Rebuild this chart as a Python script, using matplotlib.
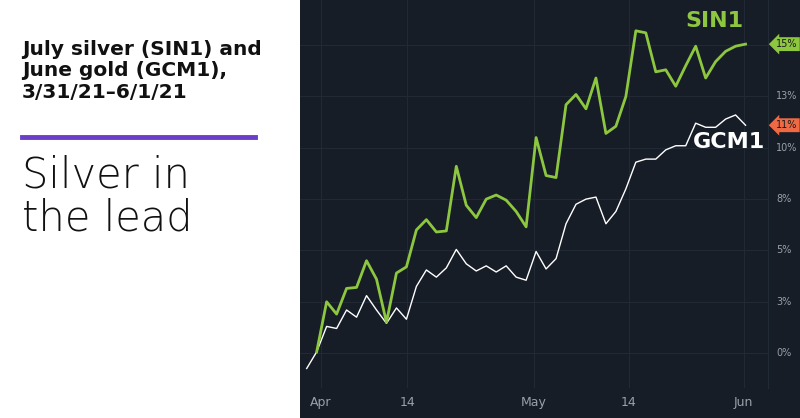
import matplotlib
matplotlib.use("Agg")
import matplotlib.pyplot as plt
import numpy as np

# percent change since 3/31/21
silver = [np.nan, 0.06, 2.5, 1.9, 3.15, 3.2, 4.5, 3.6, 1.5, 3.9, 4.2, 6.0, 6.5, 5.9, 5.95,
          9.1, 7.2, 6.6, 7.5, 7.7, 7.45, 6.9, 6.15, 10.5, 8.65, 8.55, 12.1, 12.6, 11.9,
          13.4, 10.7, 11.05, 12.5, 15.7, 15.6, 13.7, 13.8, 13.0, 14.0, 14.95, 13.4, 14.2,
          14.7, 14.95, 15.05]
gold = [-0.75, 0.06, 1.3, 1.2, 2.1, 1.75, 2.8, 2.1, 1.45, 2.2, 1.65, 3.25, 4.05, 3.7, 4.15,
        5.05, 4.35, 4.0, 4.25, 3.95, 4.25, 3.7, 3.55, 4.95, 4.1, 4.6, 6.3, 7.25, 7.5, 7.6,
        6.3, 6.9, 8.0, 9.3, 9.45, 9.45, 9.9, 10.1, 10.1, 11.2, 11.0, 11.0, 11.4, 11.6, 11.1]
x_tick_pos = [1.45, 10.1, 22.8, 32.3, 43.8]
x_tick_labels = ["Apr", "14", "May", "14", "Jun"]
y_ticks = [0, 2.5, 5, 7.5, 10, 12.5, 15]
y_tick_labels = ["0%", "3%", "5%", "8%", "10%", "13%", "15%"]

BG = "#161d27"
GREEN = "#8dc63f"
RED = "#ee6a45"

fig = plt.figure(figsize=(8, 4.18), dpi=100)
fig.patch.set_facecolor("white")

# dark panel
fig.add_artist(plt.Rectangle((300 / 800, 0), 500 / 800, 1, transform=fig.transFigure,
                             facecolor=BG, edgecolor="none", zorder=0))

ax = fig.add_axes([300 / 800, 30 / 418, 468 / 800, 388 / 418])
ax.set_facecolor(BG)
idx = np.arange(len(gold))
ax.plot(idx, gold, color="white", lw=1.0)
ax.plot(idx, silver, color=GREEN, lw=2.0)
ax.set_xlim(-0.67, 46.25)
ax.set_ylim(-1.7, 17.2)
for s in ax.spines.values():
    s.set_visible(False)
ax.spines["right"].set_visible(True)
ax.spines["right"].set_color("#222a35")
ax.set_yticks(y_ticks)
ax.set_yticklabels([])
ax.set_xticks(x_tick_pos)
ax.set_xticklabels(x_tick_labels, color="#9aa0a8", fontsize=9)
ax.tick_params(length=0, pad=6)
ax.grid(True, color="#212935", lw=0.8)
ax.set_axisbelow(True)

for v, lab in zip(y_ticks, y_tick_labels):
    if lab == "15%":
        continue
    ax.annotate(lab, (1, v), xycoords=("axes fraction", "data"), xytext=(6, 0),
                textcoords="offset points", color="#9aa0a8", fontsize=7, va="center")

# end badges
for v, lab, col in [(silver[-1], "15%", GREEN), (gold[-1], "11%", RED)]:
    ax.annotate(lab, (1, v), xycoords=("axes fraction", "data"), xytext=(6, 0),
                textcoords="offset points", color="#1a1a1a", fontsize=7, va="center",
                bbox=dict(boxstyle="larrow,pad=0.2", fc=col, ec="none"))

ax.text(len(silver) - 1.2, 16.2, "SIN1", color=GREEN, fontsize=16, fontweight="bold",
        ha="right", va="center")
ax.text(46.0, 10.3, "GCM1", color="white", fontsize=16, fontweight="bold",
        ha="right", va="center")

fig.text(22 / 800, 1 - 40 / 418, "July silver (SIN1) and\nJune gold (GCM1),\n3/31/21\u20136/1/21",
         fontsize=14.5, fontweight="bold", color="#111111", va="top", linespacing=1.15)
fig.add_artist(plt.Line2D([22 / 800, 255 / 800], [1 - 137 / 418] * 2, color="#6a3fc8", lw=3.5))
fig.text(22 / 800, 1 - 155 / 418, "Silver in\nthe lead", fontsize=30, fontweight="light",
         color="#111111", va="top", linespacing=1.05)

fig.savefig("out.png", dpi=100, facecolor=fig.get_facecolor())
